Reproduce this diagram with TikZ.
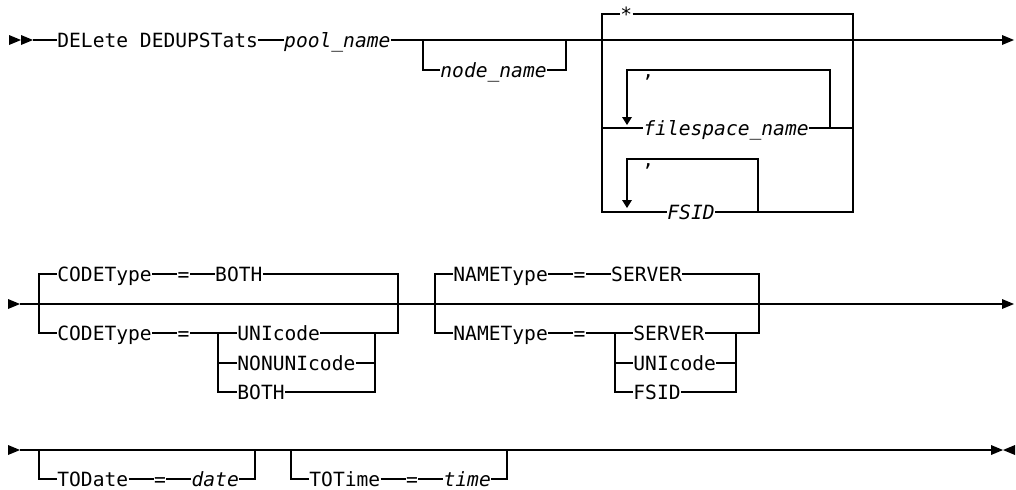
\documentclass[tikz,border=0pt]{standalone}
\usepackage{fontspec}
\newfontfamily\railfont{DejaVu Sans Mono}
\usepackage{tikz}
\usetikzlibrary{positioning}
\tikzstyle{kw} = [inner sep=0pt, text height=7.1pt, text depth=0pt, anchor=west, font=\railfont\fontsize{9.8}{12}\selectfont]
\tikzstyle{arg} = [kw, font=\railfont\fontsize{9.8}{12}\selectfont\itshape]
\tikzstyle{rail} = [line width=0.65pt, black]
\tikzset{
  fwd/.pic={\fill (0,-5) -- (12,0) -- (0,5) -- cycle;},
  bwd/.pic={\fill (12,-5) -- (0,0) -- (12,5) -- cycle;},
  dwn/.pic={\fill (-5,-8) -- (5,-8) -- (0,0) -- cycle;}
}

\begin{document}
\begin{tikzpicture}[x=0.5pt, y=-0.5pt]
        \useasboundingbox (0,0) rectangle (1016,489);

        % row 1
        \pic at (9,40) {fwd};
        \pic at (21,40) {fwd};
        \coordinate (r1a) at (33,40);
        \coordinate (r1end) at (1002,40);
        \node [kw] (del) at (57,40) {DELete DEDUPSTats};
        \node [arg, right=12.7pt of del] (pool) {pool\_name};
        \draw [rail] (r1a) -- (del.west);
        \draw [rail] (del.east) -- (pool.west);
        \draw [rail] (pool.east) -- (r1end);
        \pic at (r1end) {fwd};

        \coordinate (nb1) at (423,40);
        \coordinate (nb2) at (566,40);
        \node [arg] (nodename) at (440,70) {node\_name};
        \draw [rail] (nb1) |- (nodename.west);
        \draw [rail] (nodename.east) -| (nb2);

        \coordinate (sbl) at (602,212);
        \coordinate (sbr) at (853,212);
        \node [kw] (star) at (620,14) {*};
        \node [arg] (fsname) at (643,128) {filespace\_name};
        \node [arg] (fsid) at (667,212) {FSID};
        \draw [rail] (star.west) -| (sbl) -- (fsid.west);
        \draw [rail] (star.east) -| (sbr) -- (fsid.east);
        \draw [rail] (sbl |- fsname) -- (fsname.west);
        \draw [rail] (fsname.east) -- (sbr |- fsname);

        % repeat loops
        \node [kw] (comma1) at (642,70) {,};
        \node [kw] (comma2) at (642,159) {,};
        \coordinate (lp1) at (830,128);
        \coordinate (lp2) at (758,212);
        \draw [rail] (lp1) |- (627,70) -- (627,117);
        \pic at (627,125) {dwn};
        \draw [rail] (lp2) |- (627,159) -- (627,200);
        \pic at (627,208) {dwn};

        % row 2
        \pic at (8,304) {fwd};
        \coordinate (r2a) at (20,304);
        \coordinate (r2end) at (1002,304);
        \draw [rail] (r2a) -- (r2end);
        \pic at (r2end) {fwd};

        \node [kw] (ct1) at (57,274) {CODEType};
        \node [kw, right=12.5pt of ct1] (eq1) {=};
        \node [kw, right=12.5pt of eq1] (cboth1) {BOTH};
        \node [kw] (ct2) at (57,333) {CODEType};
        \node [kw, right=12.5pt of ct2] (eq2) {=};
        \node [kw] (cuni) at (237,333) {UNIcode};
        \node [kw] (cnonuni) at (237,363) {NONUNIcode};
        \node [kw] (cboth2) at (237,392) {BOTH};
        \coordinate (cl) at (39,333);
        \coordinate (cr) at (398,333);
        \coordinate (cs) at (218,333);
        \coordinate (ce) at (375,333);
        \draw [rail] (ct1.west) -| (cl) -- (ct2.west);
        \draw [rail] (cboth1.east) -| (cr) -- (cuni.east);
        \draw [rail] (ct1) -- (eq1) -- (cboth1);
        \draw [rail] (ct2) -- (eq2) -- (cuni);
        \draw [rail] (cs) |- (cboth2.west);
        \draw [rail] (cs |- cnonuni) -- (cnonuni.west);
        \draw [rail] (ce) |- (cboth2.east);
        \draw [rail] (cnonuni.east) -- (ce |- cnonuni);

        \node [kw] (nt1) at (453,274) {NAMEType};
        \node [kw, right=12.5pt of nt1] (eq3) {=};
        \node [kw, right=12.5pt of eq3] (nserver1) {SERVER};
        \node [kw] (nt2) at (453,333) {NAMEType};
        \node [kw, right=12.5pt of nt2] (eq4) {=};
        \node [kw] (nserver2) at (633,333) {SERVER};
        \node [kw] (nuni) at (633,363) {UNIcode};
        \node [kw] (nfsid) at (633,392) {FSID};
        \coordinate (nl) at (435,333);
        \coordinate (nr) at (759,333);
        \coordinate (ns) at (615,333);
        \coordinate (ne) at (736,333);
        \draw [rail] (nt1.west) -| (nl) -- (nt2.west);
        \draw [rail] (nserver1.east) -| (nr) -- (nserver2.east);
        \draw [rail] (nt1) -- (eq3) -- (nserver1);
        \draw [rail] (nt2) -- (eq4) -- (nserver2);
        \draw [rail] (ns) |- (nfsid.west);
        \draw [rail] (ns |- nuni) -- (nuni.west);
        \draw [rail] (ne) |- (nfsid.east);
        \draw [rail] (nuni.east) -- (ne |- nuni);

        % row 3
        \pic at (8,450) {fwd};
        \coordinate (r3a) at (20,450);
        \coordinate (r3end) at (991,450);
        \draw [rail] (r3a) -- (r3end);
        \pic at (r3end) {fwd};
        \pic at (1003,450) {bwd};

        \coordinate (tdl) at (39,450);
        \coordinate (tdr) at (255,450);
        \node [kw] (todate) at (57,479) {TODate};
        \node [kw, right=12.5pt of todate] (eq5) {=};
        \node [arg, right=12.5pt of eq5] (date) {date};
        \draw [rail] (tdl) |- (todate.west);
        \draw [rail] (todate) -- (eq5) -- (date);
        \draw [rail] (date.east) -| (tdr);

        \coordinate (ttl) at (291,450);
        \coordinate (ttr) at (507,450);
        \node [kw] (totime) at (309,479) {TOTime};
        \node [kw, right=12.5pt of totime] (eq6) {=};
        \node [arg, right=12.5pt of eq6] (time) {time};
        \draw [rail] (ttl) |- (totime.west);
        \draw [rail] (totime) -- (eq6) -- (time);
        \draw [rail] (time.east) -| (ttr);
    \end{tikzpicture}
\end{document}
